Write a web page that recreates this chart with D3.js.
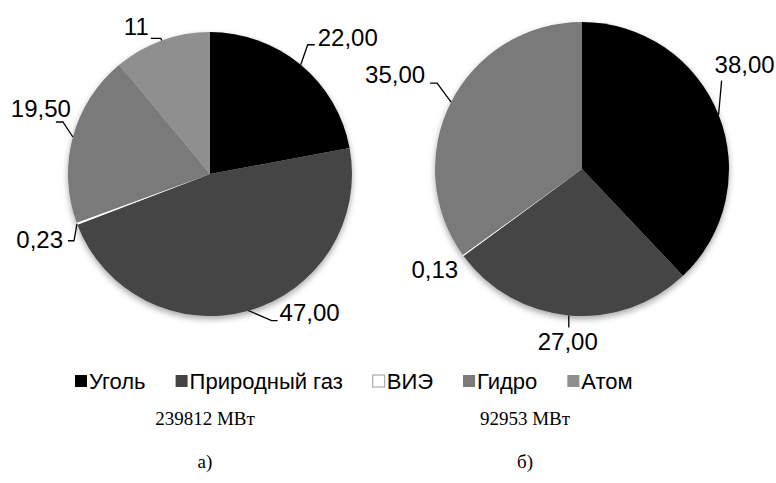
<!DOCTYPE html>
<html>
<head>
<meta charset="utf-8">
<script src="https://cdn.jsdelivr.net/npm/d3@7/dist/d3.min.js"></script>
<style>
  body { margin: 0; background: #fff; }
  svg { display: block; }
</style>
</head>
<body>
<svg id="chart" width="776" height="483"></svg>
<script>
// categories and values
var categories = ["Уголь", "Природный газ", "ВИЭ", "Гидро", "Атом"];
var valuesA = [22.00, 47.00, 0.23, 19.50, 11];
var valuesB = [38.00, 27.00, 0.13, 35.00, 0];
var labelsA = ["22,00", "47,00", "0,23", "19,50", "11"];
var labelsB = ["38,00", "27,00", "0,13", "35,00", ""];
var totals = ["239812 МВт", "92953 МВт"];
var captions = ["а)", "б)"];

var colors = ["#000000", "#444444", "#ffffff", "#7a7a7a", "#8f8f8f"];

// label leader layout: elbow offset from slice edge, tail length, text offset, anchor
var layoutA = [
  { elbow: [7, -20], tail: 7, text: [3, 1], anchor: "start" },
  { elbow: [23, 10], tail: 6, text: [2, 0], anchor: "start" },
  { elbow: [-3, 17], tail: -6, text: [-5, 7], anchor: "end" },
  { elbow: [-10, -15], tail: -7, text: [15, -5], anchor: "end" },
  { elbow: [-1, -2], tail: -10, text: [-2, -3], anchor: "end" }
];
var layoutB = [
  { elbow: [3, -34], tail: 0, text: [-7, -8], anchor: "start" },
  { elbow: [0, 12], tail: 0, text: [-1, 23], anchor: "middle" },
  { elbow: [0, 0], tail: 0, text: [-5, 22], anchor: "end" },
  { elbow: [-14, -19], tail: -7, text: [-5, 0], anchor: "end" },
  null
];

var svg = d3.select("#chart");

var defs = svg.append("defs");
var f = defs.append("filter").attr("id", "shadow")
  .attr("x", "-20%").attr("y", "-20%").attr("width", "140%").attr("height", "140%");
f.append("feDropShadow").attr("dx", 0).attr("dy", 3).attr("stdDeviation", 3)
  .attr("flood-color", "#000").attr("flood-opacity", 0.35);

var pie = d3.pie().sort(null).value(function(d) { return d; });

function drawPie(values, labels, layout, cx, cy, r) {
  var arcs = pie(values);
  var arc = d3.arc().innerRadius(0).outerRadius(r);
  var g = svg.append("g").attr("transform", "translate(" + cx + "," + cy + ")");

  g.append("g").attr("filter", "url(#shadow)")
    .selectAll("path")
    .data(arcs.filter(function(d) { return d.value > 0; }))
    .enter().append("path")
    .attr("d", arc)
    .attr("fill", function(d) { return colors[d.index]; });

  arcs.forEach(function(d, i) {
    var lay = layout[i];
    if (!lay || d.value <= 0) return;
    var mid = (d.startAngle + d.endAngle) / 2;
    var ex = r * Math.sin(mid), ey = -r * Math.cos(mid);
    var bx = ex + lay.elbow[0], by = ey + lay.elbow[1];
    var tx = bx + lay.tail, ty = by;
    if (lay.elbow[0] !== 0 || lay.elbow[1] !== 0) {
      g.append("path")
        .attr("d", "M" + ex + "," + ey + "L" + bx + "," + by + "L" + tx + "," + ty)
        .attr("fill", "none").attr("stroke", "#000").attr("stroke-width", 1.3);
    }
    g.append("text")
      .attr("x", tx + lay.text[0]).attr("y", ty + lay.text[1])
      .attr("text-anchor", lay.anchor)
      .attr("font-family", "Liberation Sans, Arial, sans-serif")
      .attr("font-size", 24)
      .text(labels[i]);
  });
}

drawPie(valuesA, labelsA, layoutA, 210, 174, 142);
drawPie(valuesB, labelsB, layoutB, 582, 169, 147);

// legend
var legend = svg.append("g").attr("font-family", "Liberation Sans, Arial, sans-serif").attr("font-size", 22);
var lx = 75, ly = 381, gap = 30;
categories.forEach(function(c, i) {
  legend.append("rect")
    .attr("x", lx).attr("y", ly - 6).attr("width", 12).attr("height", 12)
    .attr("fill", colors[i])
    .attr("stroke", i === 2 ? "#9a9a9a" : "none").attr("stroke-width", 1);
  var t = legend.append("text").attr("x", lx + 14).attr("y", ly + 8).text(c);
  lx += 14 + t.node().getComputedTextLength() + gap;
});

// captions
var capX = [205, 525];
totals.forEach(function(t, i) {
  svg.append("text").attr("x", capX[i]).attr("y", 425)
    .attr("text-anchor", "middle")
    .attr("font-family", "Liberation Serif, Times New Roman, serif").attr("font-size", 19)
    .text(t);
  svg.append("text").attr("x", capX[i]).attr("y", 468)
    .attr("text-anchor", "middle")
    .attr("font-family", "Liberation Serif, Times New Roman, serif").attr("font-size", 19)
    .text(captions[i]);
});
</script>
</body>
</html>
